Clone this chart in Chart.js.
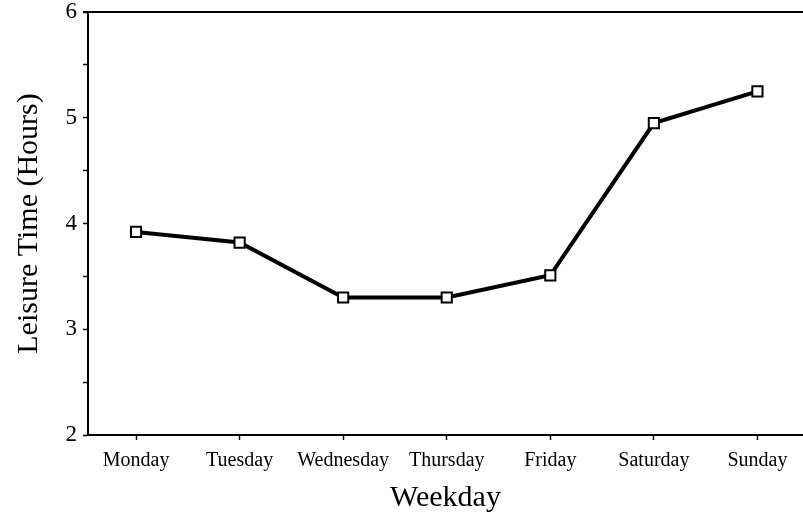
<!DOCTYPE html>
<html>
<head>
<meta charset="utf-8">
<script src="https://cdn.jsdelivr.net/npm/chart.js@4"></script>
<style>
  html, body { margin: 0; padding: 0; background: #fff; }
  #wrap { width: 803px; height: 521px; }
</style>
</head>
<body>
<div id="wrap"><canvas id="leisure"></canvas></div>
<script>
const days = ["Monday", "Tuesday", "Wednesday", "Thursday", "Friday", "Saturday", "Sunday"];
const hours = [3.92, 3.82, 3.30, 3.30, 3.51, 4.95, 5.25];
const yMin = 2;
const yMax = 6;

const ctx = document.getElementById("leisure").getContext("2d");

// top frame line
const topLine = {
  id: "topLine",
  afterDraw(chart) {
    const a = chart.chartArea;
    const c = chart.ctx;
    c.save();
    c.strokeStyle = "#000";
    c.lineWidth = 2;
    c.beginPath();
    c.moveTo(a.left - 5, a.top);
    c.lineTo(a.right, a.top);
    c.stroke();
    c.restore();
  },
};

new Chart(ctx, {
  type: "line",
  data: {
    datasets: [
      {
        label: "Leisure Time",
        data: days.map((d, i) => ({ x: i, y: hours[i] })),
        borderColor: "#000",
        borderWidth: 4,
        pointStyle: "rect",
        pointRadius: 7.2,
        pointBackgroundColor: "#fff",
        pointBorderColor: "#000",
        pointBorderWidth: 2,
        tension: 0,
      },
    ],
  },
  options: {
    responsive: true,
    maintainAspectRatio: false,
    animation: false,
    layout: { autoPadding: false, padding: { top: 12, right: 0, left: 0, bottom: 0 } },
    plugins: {
      legend: { display: false },
      tooltip: { enabled: false },
    },
    scales: {
      x: {
        type: "linear",
        min: -0.464,
        max: 6.44,
        afterFit: (s) => {
          s.height = 86;
          s.paddingLeft = 0;
          s.paddingRight = 0;
        },
        border: { display: true, color: "#000", width: 2 },
        grid: { drawOnChartArea: false, color: "#000", tickLength: 5, tickWidth: 1.5 },
        ticks: {
          stepSize: 1,
          includeBounds: false,
          autoSkip: false,
          maxRotation: 0,
          padding: 9,
          color: "#000",
          font: { family: "Liberation Serif", size: 20 },
          callback: (v) => days[v] || "",
        },
        title: {
          display: true,
          text: "Weekday",
          color: "#000",
          font: { family: "Liberation Serif", size: 30 },
          padding: { top: 0, bottom: 5 },
        },
      },
      y: {
        min: yMin,
        max: yMax,
        afterFit: (s) => {
          s.width = 88;
          s.paddingTop = 0;
          s.paddingBottom = 0;
        },
        border: { display: true, color: "#000", width: 2 },
        grid: { drawOnChartArea: false, color: "#000", tickLength: 5, tickWidth: 1.5 },
        ticks: {
          stepSize: 0.5,
          padding: 6,
          color: "#000",
          font: { family: "Liberation Serif", size: 23 },
          callback: (v) => (Number.isInteger(v) ? v : ""),
        },
        title: {
          display: true,
          text: "Leisure Time (Hours)",
          color: "#000",
          font: { family: "Liberation Serif", size: 30 },
          padding: { top: 11, bottom: 0 },
        },
      },
    },
  },
  plugins: [topLine],
});
</script>
</body>
</html>
